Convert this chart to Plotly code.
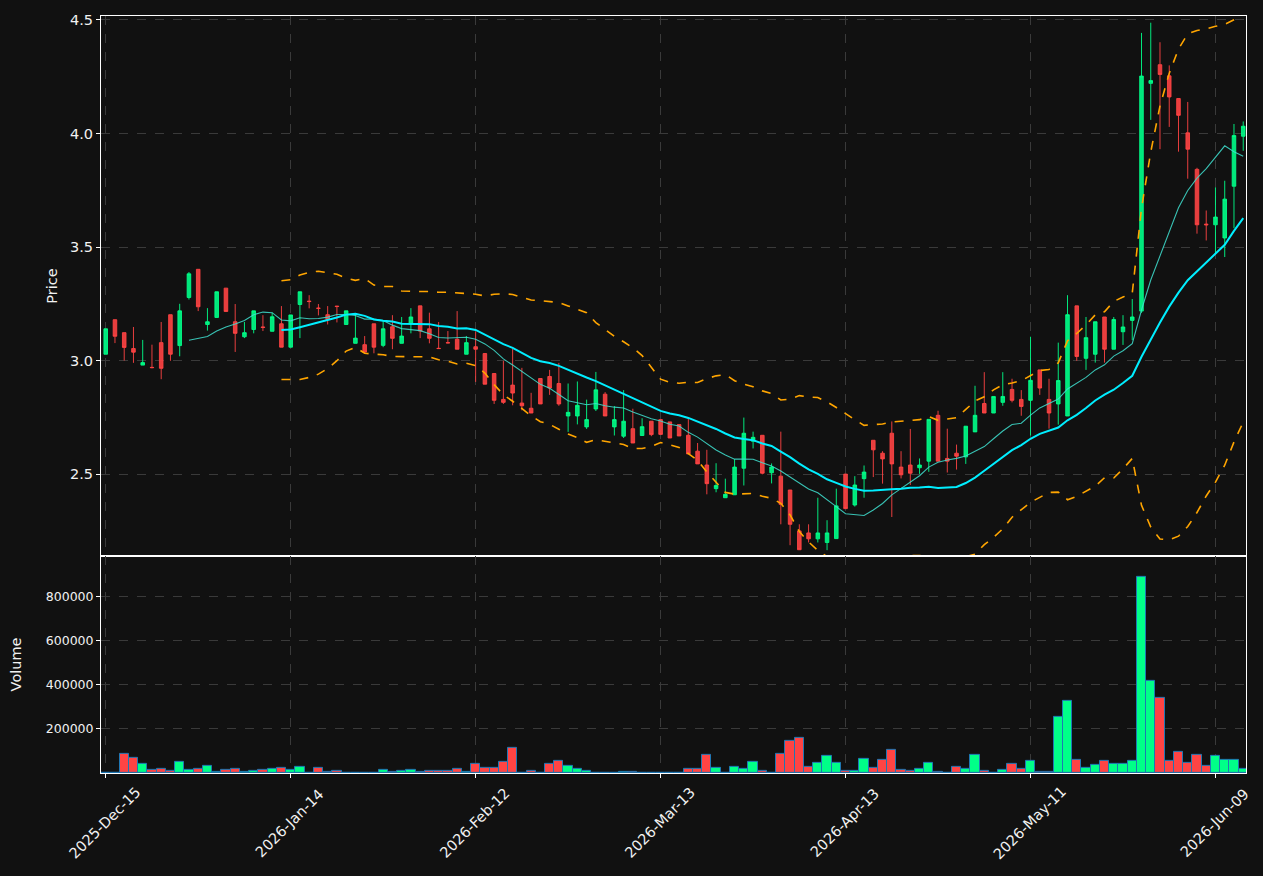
import pandas as pd
import plotly.graph_objects as go

# ---------------- data ----------------
opens = [3.028, 3.180, 3.123, 3.053, 2.980, 2.970, 3.079, 3.202, 3.066, 3.278,
         3.402, 3.159, 3.190, 3.319, 3.171, 3.105, 3.137, 3.148, 3.129, 3.162,
         3.059, 3.247, 3.262, 3.231, 3.202, 3.240, 3.159, 3.076, 3.070, 3.162,
         3.067, 3.149, 3.076, 3.162, 3.241, 3.140, 3.054, 3.079, 3.094, 3.028,
         3.061, 3.031, 2.943, 2.829, 2.892, 2.813, 2.790, 2.921, 2.930, 2.899,
         2.756, 2.756, 2.708, 2.787, 2.852, 2.708, 2.667, 2.700, 2.670, 2.733,
         2.740, 2.730, 2.718, 2.671, 2.601, 2.540, 2.436, 2.396, 2.409, 2.526,
         2.645, 2.671, 2.506, 2.491, 2.430, 2.250, 2.241, 2.215, 2.199, 2.216,
         2.500, 2.364, 2.480, 2.649, 2.592, 2.680, 2.531, 2.540, 2.528, 2.557,
         2.759, 2.569, 2.592, 2.576, 2.686, 2.811, 2.769, 2.816, 2.873, 2.829,
         2.825, 2.959, 2.829, 2.809, 2.756, 3.241, 3.010, 3.028, 3.192, 3.050,
         3.127, 3.177, 3.218, 4.221, 4.303, 4.254, 4.154, 4.003, 3.842, 3.601,
         3.598, 3.540, 3.768, 3.988]
highs = [3.140, 3.180, 3.123, 3.148, 3.091, 3.070, 3.170, 3.202, 3.250, 3.390,
         3.402, 3.231, 3.303, 3.319, 3.249, 3.170, 3.219, 3.200, 3.211, 3.240,
         3.201, 3.303, 3.288, 3.249, 3.240, 3.241, 3.219, 3.208, 3.108, 3.162,
         3.178, 3.200, 3.192, 3.231, 3.241, 3.211, 3.170, 3.130, 3.218, 3.108,
         3.129, 3.031, 2.943, 2.999, 3.051, 2.968, 2.858, 2.921, 2.959, 2.990,
         2.899, 2.908, 2.828, 2.950, 2.861, 2.800, 2.870, 2.788, 2.746, 2.733,
         2.740, 2.730, 2.718, 2.747, 2.637, 2.607, 2.548, 2.480, 2.566, 2.749,
         2.687, 2.671, 2.547, 2.687, 2.430, 2.279, 2.279, 2.396, 2.297, 2.436,
         2.500, 2.491, 2.538, 2.649, 2.601, 2.732, 2.601, 2.699, 2.569, 2.741,
         2.779, 2.700, 2.630, 2.711, 2.889, 2.949, 2.842, 2.949, 2.920, 2.870,
         3.105, 2.959, 2.920, 3.079, 3.288, 3.241, 3.192, 3.171, 3.192, 3.192,
         3.200, 3.271, 4.443, 4.488, 4.402, 4.300, 4.154, 4.139, 3.849, 3.661,
         3.763, 3.792, 4.042, 4.053]
lows = [3.028, 3.077, 3.000, 2.990, 2.980, 2.966, 2.918, 2.999, 3.019, 3.269,
        3.218, 3.132, 3.190, 3.216, 3.038, 3.099, 3.120, 3.130, 3.129, 3.059,
        3.059, 3.099, 3.230, 3.199, 3.159, 3.168, 3.159, 3.076, 3.037, 3.032,
        3.059, 3.050, 3.076, 3.120, 3.099, 3.076, 3.051, 3.076, 3.050, 3.028,
        2.906, 2.896, 2.809, 2.809, 2.803, 2.781, 2.769, 2.809, 2.849, 2.801,
        2.686, 2.719, 2.699, 2.778, 2.756, 2.670, 2.659, 2.637, 2.670, 2.667,
        2.675, 2.659, 2.668, 2.589, 2.545, 2.411, 2.420, 2.396, 2.409, 2.450,
        2.613, 2.499, 2.459, 2.279, 2.187, 2.167, 2.199, 2.199, 2.165, 2.216,
        2.348, 2.357, 2.396, 2.487, 2.458, 2.311, 2.481, 2.452, 2.501, 2.510,
        2.557, 2.507, 2.520, 2.545, 2.686, 2.769, 2.769, 2.801, 2.816, 2.757,
        2.670, 2.849, 2.700, 2.718, 2.756, 2.999, 2.959, 2.991, 2.991, 3.050,
        3.069, 3.090, 3.210, 4.060, 3.931, 4.029, 3.920, 3.801, 3.559, 3.529,
        3.470, 3.456, 3.583, 3.924]
closes = [3.140, 3.107, 3.058, 3.037, 2.991, 2.969, 2.966, 3.028, 3.219, 3.382,
          3.237, 3.171, 3.303, 3.216, 3.120, 3.123, 3.219, 3.146, 3.193, 3.059,
          3.201, 3.303, 3.260, 3.230, 3.181, 3.238, 3.219, 3.099, 3.037, 3.059,
          3.140, 3.098, 3.108, 3.192, 3.130, 3.098, 3.053, 3.078, 3.050, 3.079,
          3.050, 2.896, 2.825, 2.816, 2.857, 2.801, 2.769, 2.809, 2.879, 2.809,
          2.772, 2.803, 2.740, 2.871, 2.756, 2.740, 2.733, 2.637, 2.709, 2.674,
          2.675, 2.659, 2.668, 2.589, 2.545, 2.458, 2.450, 2.411, 2.531, 2.680,
          2.662, 2.504, 2.531, 2.367, 2.279, 2.167, 2.215, 2.241, 2.241, 2.360,
          2.348, 2.452, 2.509, 2.607, 2.567, 2.545, 2.497, 2.504, 2.540, 2.741,
          2.557, 2.557, 2.579, 2.711, 2.759, 2.769, 2.842, 2.842, 2.825, 2.798,
          2.913, 2.879, 2.769, 2.912, 3.202, 3.018, 3.101, 3.171, 3.050, 3.181,
          3.148, 3.192, 4.253, 4.233, 4.260, 4.161, 4.080, 3.931, 3.598, 3.598,
          3.632, 3.711, 3.991, 4.032]
volumes = [0, 0, 86000, 68000, 41000, 13600, 18000, 9000, 50000, 13600,
           19700, 31800, 4500, 13600, 19700, 4500, 9000, 13600, 18000, 22700,
           13600, 27000, 0, 22700, 4500, 9000, 0, 0, 0, 0,
           13600, 4500, 9000, 13600, 4500, 9000, 9000, 9000, 18000, 4500,
           41000, 22700, 22700, 50000, 114000, 0, 9000, 0, 41000, 54500,
           31800, 18000, 9000, 0, 0, 0, 4500, 4500, 0, 0,
           0, 0, 0, 18000, 18000, 82000, 22700, 0, 27000, 18000,
           50000, 9000, 0, 86000, 145000, 159000, 27000, 45000, 77000, 45000,
           9000, 9000, 64000, 22700, 59000, 104500, 13600, 9000, 18000, 45000,
           4500, 0, 27000, 18000, 82000, 9000, 0, 13600, 41000, 18000,
           54500, 4500, 4500, 254500, 327000, 59000, 22700, 36400, 54500, 41000,
           41000, 54500, 891000, 418000, 341000, 54500, 95500, 45000, 82000, 31800,
           77000, 59000, 59000, 18000]
tick_index = [0, 20, 40, 60, 80, 100, 120]
tick_labels = ["2025-Dec-15", "2026-Jan-14", "2026-Feb-12", "2026-Mar-13",
               "2026-Apr-13", "2026-May-11", "2026-Jun-09"]
price_ticks = [2.5, 3.0, 3.5, 4.0, 4.5]
volume_ticks = [200000, 400000, 600000, 800000]

# ---------------- derived indicators ----------------
idx = list(range(len(closes)))
cs = pd.Series(closes)
sma10 = cs.rolling(10).mean()
sma20 = cs.rolling(20).mean()
std20 = cs.rolling(20).std(ddof=0)
upper = sma20 + 2 * std20
lower = sma20 - 2 * std20

UP = "rgba(0,255,136,0.9)"
DN = "rgba(255,68,68,0.9)"
VUP = "#00ff88"
VDN = "#ff4444"
vol_colors = [VUP if c >= o else VDN for o, c in zip(opens, closes)]

BG = "#111111"
GRID = "#3a3a3a"
TXT = "#f2f2f2"

fig = go.Figure()
fig.add_trace(go.Candlestick(
    x=idx, open=opens, high=highs, low=lows, close=closes,
    increasing=dict(line=dict(color=UP, width=1), fillcolor=UP),
    decreasing=dict(line=dict(color=DN, width=1), fillcolor=DN),
    whiskerwidth=0, xaxis="x", yaxis="y", showlegend=False, hoverinfo="skip"))
fig.add_trace(go.Scatter(x=idx, y=upper, mode="lines",
                         line=dict(color="#ffa500", width=1.6, dash="dash"),
                         xaxis="x", yaxis="y", showlegend=False))
fig.add_trace(go.Scatter(x=idx, y=lower, mode="lines",
                         line=dict(color="#ffa500", width=1.6, dash="dash"),
                         xaxis="x", yaxis="y", showlegend=False))
fig.add_trace(go.Scatter(x=idx, y=sma10, mode="lines",
                         line=dict(color="rgba(64,224,208,0.85)", width=1.1),
                         xaxis="x", yaxis="y", showlegend=False))
fig.add_trace(go.Scatter(x=idx, y=sma20, mode="lines",
                         line=dict(color="#00eeff", width=2),
                         xaxis="x", yaxis="y", showlegend=False))
fig.add_trace(go.Bar(x=idx, y=volumes, marker=dict(color=vol_colors,
                     line=dict(color="#1f77b4", width=1)),
                     width=1.0, xaxis="x2", yaxis="y2", showlegend=False))

vol_split = (773 - 555) / 760.0
xr = [-0.51, 123.3]
line_grid = dict(showline=True, mirror=True, linecolor="#ffffff", linewidth=1,
                 showgrid=True, gridcolor=GRID, griddash="dash", gridwidth=1,
                 zeroline=False, tickcolor="#ffffff", ticklen=4)

# x tick labels rotated 45 degrees and centred under each tick
annotations = []
for ti, tl in zip(tick_index, tick_labels):
    annotations.append(dict(x=ti, xref="x2", y=0, yref="paper", yshift=-50,
                            xshift=-1, text=tl, textangle=-45, showarrow=False,
                            xanchor="center", yanchor="middle",
                            font=dict(size=14.5, color=TXT)))

fig.update_layout(
    width=1263, height=876,
    paper_bgcolor=BG, plot_bgcolor=BG,
    margin=dict(l=101, r=17, t=13, b=103),
    font=dict(family="DejaVu Sans", color=TXT, size=14),
    boxgap=0.45, bargap=0,
    showlegend=False,
    annotations=annotations,
    xaxis=dict(domain=[0, 1], range=xr, anchor="y", tickvals=tick_index,
               showticklabels=False, ticks="", rangeslider=dict(visible=False),
               **line_grid),
    yaxis=dict(domain=[vol_split, 1], range=[2.140, 4.5175], anchor="x",
               tickvals=price_ticks, tickformat=".1f", ticks="outside",
               tickfont=dict(color=TXT, size=14.5),
               title=dict(text="Price", font=dict(size=14.5, color=TXT), standoff=8),
               **line_grid),
    xaxis2=dict(domain=[0, 1], range=xr, anchor="y2", matches="x",
                tickvals=tick_index, showticklabels=False, ticks="outside",
                **line_grid),
    yaxis2=dict(domain=[0, vol_split], range=[0, 986000], anchor="x2",
                tickvals=volume_ticks, ticktext=[str(v) for v in volume_ticks],
                ticks="outside", tickfont=dict(color=TXT, size=12.5),
                title=dict(text="Volume", font=dict(size=14.5, color=TXT), standoff=20),
                **line_grid),
)

fig.write_html("out.html")
